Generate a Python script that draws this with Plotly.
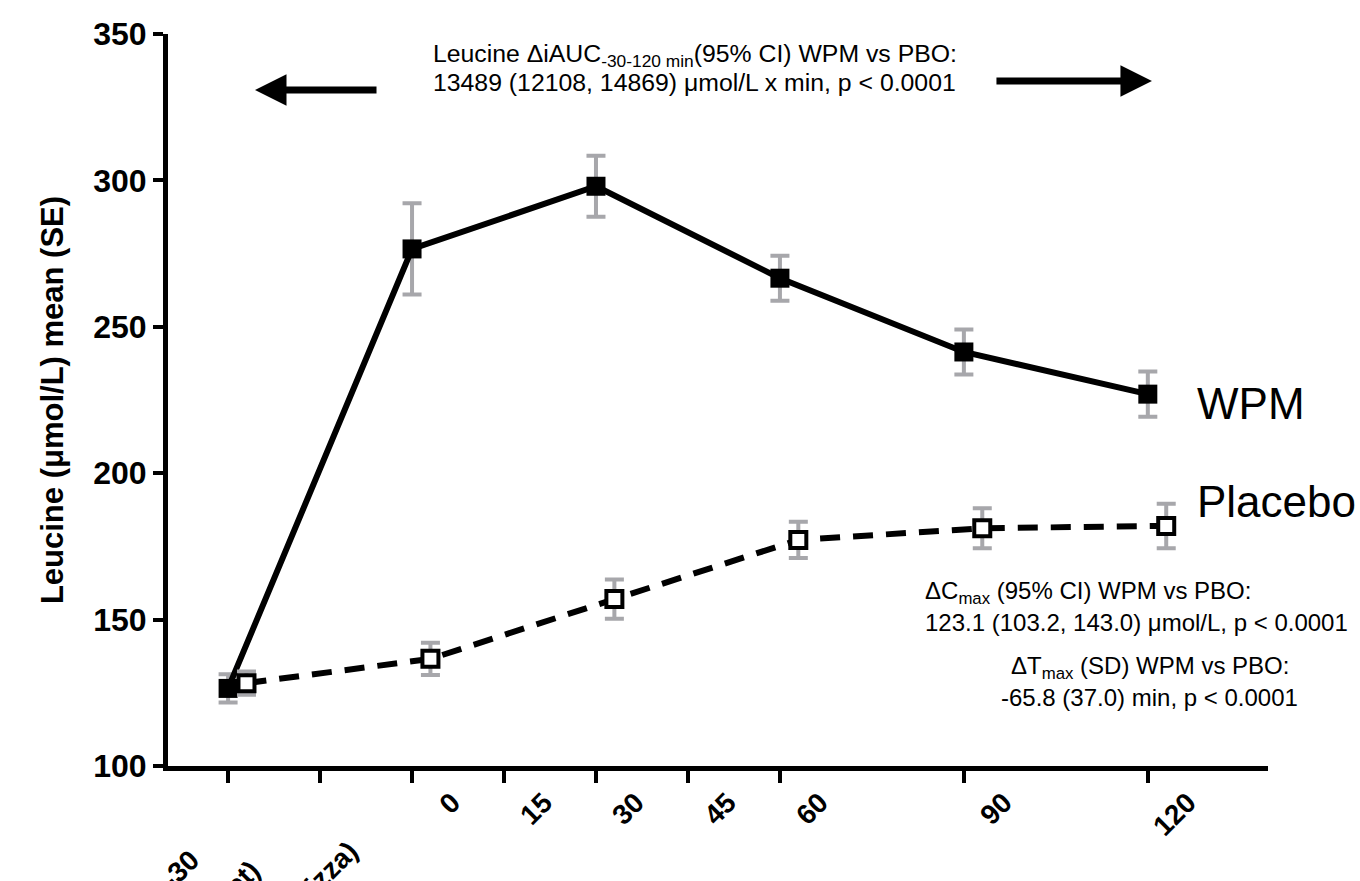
import plotly.graph_objects as go

# ---------------- data ----------------
time_min = [-30, 0, 30, 60, 90, 120]
wpm_mean = [126.5, 276.6, 298.0, 266.6, 241.4, 227.0]
wpm_se = [4.8, 15.6, 10.4, 7.7, 7.7, 7.7]
pbo_mean = [128.3, 136.6, 157.0, 177.2, 181.2, 182.0]
pbo_se = [4.0, 5.5, 6.7, 6.2, 6.8, 7.6]

x_tick_vals = [-30, -15, 0, 15, 30, 45, 60, 90, 120]
x_tick_text = ["", "", "0", "15", "30", "45", "60", "90", "120"]
event_ticks = [-30, -15, 0]
event_labels = ["-30", "(Supplement receipt)", "(Pizza)"]
y_tick_vals = [100, 150, 200, 250, 300, 350]

# display-only horizontal dodge for the placebo series (minutes)
PBO_DODGE = 3.0

FONT = "Liberation Sans, Arial, sans-serif"
ERR_COLOR = "#a7a7ab"

fig = go.Figure()

fig.add_trace(go.Scatter(
    x=time_min, y=wpm_mean, mode="lines+markers", name="WPM",
    line=dict(color="black", width=6),
    marker=dict(symbol="square", size=19, color="black", line=dict(width=0)),
    error_y=dict(type="data", array=wpm_se, visible=True, color=ERR_COLOR,
                 thickness=4, width=9.5),
    showlegend=False, cliponaxis=False,
))

fig.add_trace(go.Scatter(
    x=[t + PBO_DODGE for t in time_min], y=pbo_mean, mode="lines+markers",
    name="Placebo",
    line=dict(color="black", width=6, dash="20px,13px"),
    marker=dict(symbol="square", size=16, color="white",
                line=dict(color="black", width=4)),
    error_y=dict(type="data", array=pbo_se, visible=True, color=ERR_COLOR,
                 thickness=4, width=9.5),
    showlegend=False, cliponaxis=False,
))

annotations = []

# event labels under the first ticks (rotated, partly clipped like the original)
event_shift = [(-20, -76), (-52, -86), (-45, -66)]
for tv, lab, (dx, dy) in zip(event_ticks, event_labels, event_shift):
    annotations.append(dict(
        x=tv, y=0, xref="x", yref="paper", text=lab, showarrow=False,
        textangle=-45, xanchor="right", yanchor="top", xshift=dx, yshift=dy,
        font=dict(family=FONT, size=28, color="black", weight="bold"),
    ))

small = dict(family=FONT, size=24.8, color="black")
small2 = dict(family=FONT, size=24, color="black")

# top AUC text
annotations += [
    dict(x=0.479, y=0.9713, xref="paper", yref="paper", showarrow=False,
         xanchor="center", yanchor="middle", font=small,
         text="Leucine ΔiAUC<sub>-30-120 min</sub>(95% CI) WPM vs PBO:"),
    dict(x=0.479, y=0.9344, xref="paper", yref="paper", showarrow=False,
         xanchor="center", yanchor="middle", font=small,
         text="13489 (12108, 14869) μmol/L x min, p < 0.0001"),
]

# arrows
annotations += [
    dict(x=0.0791, y=0.9235, xref="paper", yref="paper", showarrow=True,
         ax=123, ay=0, axref="pixel", ayref="pixel", text="",
         arrowhead=2, arrowsize=0.9, arrowwidth=7, arrowcolor="black"),
    dict(x=0.8945, y=0.9358, xref="paper", yref="paper", showarrow=True,
         ax=-157, ay=0, axref="pixel", ayref="pixel", text="",
         arrowhead=2, arrowsize=0.9, arrowwidth=7, arrowcolor="black"),
]

# Cmax / Tmax text
annotations += [
    dict(x=0.686, y=0.2377, xref="paper", yref="paper", showarrow=False,
         xanchor="left", yanchor="middle", font=small2,
         text="ΔC<sub>max</sub> (95% CI) WPM vs PBO:"),
    dict(x=0.686, y=0.1954, xref="paper", yref="paper", showarrow=False,
         xanchor="left", yanchor="middle", font=small2,
         text="123.1 (103.2, 143.0) μmol/L, p < 0.0001"),
    dict(x=0.8927, y=0.1339, xref="paper", yref="paper", showarrow=False,
         xanchor="center", yanchor="middle", font=small2,
         text="ΔT<sub>max</sub> (SD) WPM vs PBO:"),
    dict(x=0.8927, y=0.0929, xref="paper", yref="paper", showarrow=False,
         xanchor="center", yanchor="middle", font=small2,
         text="-65.8 (37.0) min, p < 0.0001"),
]

# series labels
big = dict(family=FONT, size=44, color="black")
annotations += [
    dict(x=0.9336, y=0.4959, xref="paper", yref="paper", showarrow=False,
         xanchor="left", yanchor="middle", font=big, text="WPM"),
    dict(x=0.9336, y=0.362, xref="paper", yref="paper", showarrow=False,
         xanchor="left", yanchor="middle", font=big, text="Placebo"),
]

fig.update_layout(
    width=1360, height=881,
    margin=dict(l=168, r=92, t=34, b=115, pad=0),
    paper_bgcolor="white", plot_bgcolor="white",
    font=dict(family=FONT, color="black"),
    annotations=annotations,
    xaxis=dict(
        range=[-39.8, 139.6], tickmode="array", tickvals=x_tick_vals,
        ticktext=x_tick_text, ticks="outside", ticklen=12, tickwidth=4,
        tickcolor="black", showline=True, linewidth=5, linecolor="black",
        showgrid=False, zeroline=False, tickangle=-45,
        ticklabelshift=40, ticklabelstandoff=-8,
        tickfont=dict(family=FONT, size=28, color="black", weight="bold"),
    ),
    yaxis=dict(
        range=[100, 350], tickmode="array", tickvals=y_tick_vals,
        ticks="outside", ticklen=10, tickwidth=4, tickcolor="black",
        showline=True, linewidth=5, linecolor="black",
        showgrid=False, zeroline=False,
        tickfont=dict(family=FONT, size=32, color="black", weight="bold"),
        title=dict(text="Leucine (μmol/L) mean (SE)", standoff=22,
                   font=dict(family=FONT, size=31, color="black", weight="bold")),
    ),
)

fig.write_html(
    "out.html",
    config={"displayModeBar": False},
    post_script="document.body.style.margin='0';document.body.style.overflow='hidden';",
)
